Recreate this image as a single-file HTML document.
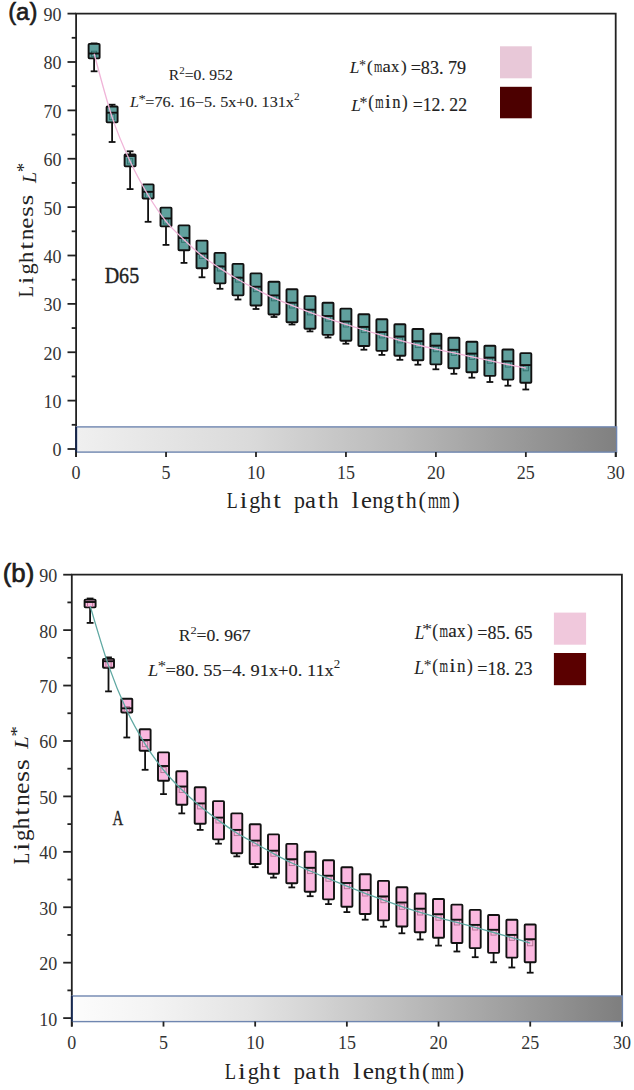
<!DOCTYPE html>
<html><head><meta charset="utf-8"><style>
html,body{margin:0;padding:0;background:#fff;}
svg{display:block;}
text{fill:#222;}
.tk{font-family:"Liberation Serif",serif;font-size:18px;fill:#333;}
.pl{font-family:"Liberation Sans",sans-serif;font-weight:bold;font-size:23px;fill:#111;}
.ann{font-family:"Liberation Serif",serif;font-size:16px;fill:#222;}
.ann2{font-family:"Liberation Serif",serif;font-size:18px;fill:#222;}
.mono{font-family:"Liberation Mono",monospace;font-size:15px;fill:#222;}
.it{font-family:"Liberation Serif",serif;font-style:italic;}
.sup{font-size:11px;}
.sup2{font-size:12px;}
.big{font-family:"Liberation Mono",monospace;font-size:21px;fill:#222;}
.ttl{font-family:"Liberation Mono",monospace;font-size:18.3px;fill:#333;}
.itl{font-family:"Liberation Serif",serif;font-style:italic;font-size:21px;}
.supl{font-family:"Liberation Serif",serif;font-size:15px;}
</style></head>
<body><svg width="634" height="1090" viewBox="0 0 634 1090">
<rect width="634" height="1090" fill="#fff"/>
<defs><linearGradient id="gA" x1="0" x2="1" y1="0" y2="0"><stop offset="0" stop-color="rgb(240,240,240)"/><stop offset="0.14" stop-color="rgb(230,230,230)"/><stop offset="0.32" stop-color="rgb(218,218,218)"/><stop offset="0.42" stop-color="rgb(206,206,206)"/><stop offset="0.6" stop-color="rgb(185,185,185)"/><stop offset="0.8" stop-color="rgb(156,156,156)"/><stop offset="1" stop-color="rgb(128,128,128)"/></linearGradient></defs>
<path d="M76.1,457.0V13.6H615.7V457.0" fill="none" stroke="#222" stroke-width="1.8"/>
<line x1="67.5" x2="76.1" y1="449.00" y2="449.00" stroke="#222" stroke-width="1.8"/>
<text x="61.6" y="456.4" class="tk" text-anchor="end">0</text>
<line x1="67.5" x2="76.1" y1="400.62" y2="400.62" stroke="#222" stroke-width="1.8"/>
<text x="61.6" y="408.0" class="tk" text-anchor="end">10</text>
<line x1="67.5" x2="76.1" y1="352.25" y2="352.25" stroke="#222" stroke-width="1.8"/>
<text x="61.6" y="359.6" class="tk" text-anchor="end">20</text>
<line x1="67.5" x2="76.1" y1="303.88" y2="303.88" stroke="#222" stroke-width="1.8"/>
<text x="61.6" y="311.3" class="tk" text-anchor="end">30</text>
<line x1="67.5" x2="76.1" y1="255.50" y2="255.50" stroke="#222" stroke-width="1.8"/>
<text x="61.6" y="262.9" class="tk" text-anchor="end">40</text>
<line x1="67.5" x2="76.1" y1="207.12" y2="207.12" stroke="#222" stroke-width="1.8"/>
<text x="61.6" y="214.5" class="tk" text-anchor="end">50</text>
<line x1="67.5" x2="76.1" y1="158.75" y2="158.75" stroke="#222" stroke-width="1.8"/>
<text x="61.6" y="166.2" class="tk" text-anchor="end">60</text>
<line x1="67.5" x2="76.1" y1="110.38" y2="110.38" stroke="#222" stroke-width="1.8"/>
<text x="61.6" y="117.8" class="tk" text-anchor="end">70</text>
<line x1="67.5" x2="76.1" y1="62.00" y2="62.00" stroke="#222" stroke-width="1.8"/>
<text x="61.6" y="69.4" class="tk" text-anchor="end">80</text>
<line x1="67.5" x2="76.1" y1="13.62" y2="13.62" stroke="#222" stroke-width="1.8"/>
<text x="61.6" y="21.0" class="tk" text-anchor="end">90</text>
<line x1="71.7" x2="76.1" y1="424.81" y2="424.81" stroke="#222" stroke-width="1.8"/>
<line x1="71.7" x2="76.1" y1="376.44" y2="376.44" stroke="#222" stroke-width="1.8"/>
<line x1="71.7" x2="76.1" y1="328.06" y2="328.06" stroke="#222" stroke-width="1.8"/>
<line x1="71.7" x2="76.1" y1="279.69" y2="279.69" stroke="#222" stroke-width="1.8"/>
<line x1="71.7" x2="76.1" y1="231.31" y2="231.31" stroke="#222" stroke-width="1.8"/>
<line x1="71.7" x2="76.1" y1="182.94" y2="182.94" stroke="#222" stroke-width="1.8"/>
<line x1="71.7" x2="76.1" y1="134.56" y2="134.56" stroke="#222" stroke-width="1.8"/>
<line x1="71.7" x2="76.1" y1="86.19" y2="86.19" stroke="#222" stroke-width="1.8"/>
<line x1="71.7" x2="76.1" y1="37.81" y2="37.81" stroke="#222" stroke-width="1.8"/>
<rect x="76.6" y="426.9" width="540.0" height="25.2" fill="url(#gA)" stroke="#6f86b0" stroke-width="1.4"/>
<line x1="76.1" x2="76.1" y1="426.9" y2="452.1" stroke="#15254a" stroke-width="1.8"/>
<line x1="76.10" x2="76.10" y1="452.1" y2="457.0" stroke="#222" stroke-width="1.8"/>
<text x="76.1" y="478.8" class="tk" text-anchor="middle">0</text>
<line x1="166.05" x2="166.05" y1="452.1" y2="457.0" stroke="#222" stroke-width="1.8"/>
<text x="166.0" y="478.8" class="tk" text-anchor="middle">5</text>
<line x1="256.00" x2="256.00" y1="452.1" y2="457.0" stroke="#222" stroke-width="1.8"/>
<text x="256.0" y="478.8" class="tk" text-anchor="middle">10</text>
<line x1="345.95" x2="345.95" y1="452.1" y2="457.0" stroke="#222" stroke-width="1.8"/>
<text x="345.9" y="478.8" class="tk" text-anchor="middle">15</text>
<line x1="435.90" x2="435.90" y1="452.1" y2="457.0" stroke="#222" stroke-width="1.8"/>
<text x="435.9" y="478.8" class="tk" text-anchor="middle">20</text>
<line x1="525.85" x2="525.85" y1="452.1" y2="457.0" stroke="#222" stroke-width="1.8"/>
<text x="525.8" y="478.8" class="tk" text-anchor="middle">25</text>
<line x1="615.80" x2="615.80" y1="452.1" y2="457.0" stroke="#222" stroke-width="1.8"/>
<text x="615.8" y="478.8" class="tk" text-anchor="middle">30</text>
<line x1="94.1" x2="94.1" y1="58.4" y2="71.3" stroke="#111" stroke-width="1.8"/><line x1="90.7" x2="97.5" y1="71.3" y2="71.3" stroke="#111" stroke-width="1.8"/><line x1="94.1" x2="94.1" y1="43.9" y2="43.4" stroke="#111" stroke-width="1.8"/><line x1="90.7" x2="97.5" y1="43.4" y2="43.4" stroke="#111" stroke-width="1.8"/><rect x="88.6" y="43.9" width="11.0" height="14.5" rx="0.8" fill="#60a09d" stroke="#111" stroke-width="1.9"/><rect x="91.5" y="51.2" width="5.2" height="5.2" fill="none" stroke="#2f6d6a" stroke-width="0.9"/><line x1="88.6" x2="99.6" y1="53.5" y2="53.5" stroke="#111" stroke-width="1.9"/>
<line x1="112.1" x2="112.1" y1="122.4" y2="142.0" stroke="#111" stroke-width="1.8"/><line x1="108.7" x2="115.5" y1="142.0" y2="142.0" stroke="#111" stroke-width="1.8"/><line x1="112.1" x2="112.1" y1="106.5" y2="104.7" stroke="#111" stroke-width="1.8"/><line x1="108.7" x2="115.5" y1="104.7" y2="104.7" stroke="#111" stroke-width="1.8"/><rect x="106.6" y="106.5" width="11.0" height="15.9" rx="0.8" fill="#60a09d" stroke="#111" stroke-width="1.9"/><rect x="109.5" y="114.5" width="5.2" height="5.2" fill="none" stroke="#2f6d6a" stroke-width="0.9"/><line x1="106.6" x2="117.6" y1="112.7" y2="112.7" stroke="#111" stroke-width="1.9"/>
<line x1="130.1" x2="130.1" y1="166.4" y2="189.1" stroke="#111" stroke-width="1.8"/><line x1="126.7" x2="133.5" y1="189.1" y2="189.1" stroke="#111" stroke-width="1.8"/><line x1="130.1" x2="130.1" y1="154.4" y2="151.3" stroke="#111" stroke-width="1.8"/><line x1="126.7" x2="133.5" y1="151.3" y2="151.3" stroke="#111" stroke-width="1.8"/><rect x="124.6" y="154.4" width="11.0" height="12.0" rx="0.8" fill="#60a09d" stroke="#111" stroke-width="1.9"/><rect x="127.5" y="158.7" width="5.2" height="5.2" fill="none" stroke="#2f6d6a" stroke-width="0.9"/><line x1="124.6" x2="135.6" y1="156.0" y2="156.0" stroke="#111" stroke-width="1.9"/>
<line x1="148.1" x2="148.1" y1="198.5" y2="221.8" stroke="#111" stroke-width="1.8"/><line x1="144.7" x2="151.5" y1="221.8" y2="221.8" stroke="#111" stroke-width="1.8"/><rect x="142.6" y="184.4" width="11.0" height="14.1" rx="0.8" fill="#60a09d" stroke="#111" stroke-width="1.9"/><rect x="145.5" y="192.4" width="5.2" height="5.2" fill="none" stroke="#2f6d6a" stroke-width="0.9"/><line x1="142.6" x2="153.6" y1="191.8" y2="191.8" stroke="#111" stroke-width="1.9"/>
<line x1="166.0" x2="166.0" y1="226.4" y2="244.9" stroke="#111" stroke-width="1.8"/><line x1="162.6" x2="169.4" y1="244.9" y2="244.9" stroke="#111" stroke-width="1.8"/><rect x="160.5" y="207.6" width="11.0" height="18.8" rx="0.8" fill="#60a09d" stroke="#111" stroke-width="1.9"/><rect x="163.4" y="218.8" width="5.2" height="5.2" fill="none" stroke="#2f6d6a" stroke-width="0.9"/><line x1="160.5" x2="171.5" y1="218.4" y2="218.4" stroke="#111" stroke-width="1.9"/>
<line x1="184.0" x2="184.0" y1="250.2" y2="262.9" stroke="#111" stroke-width="1.8"/><line x1="180.6" x2="187.4" y1="262.9" y2="262.9" stroke="#111" stroke-width="1.8"/><rect x="178.5" y="225.4" width="11.0" height="24.8" rx="0.8" fill="#60a09d" stroke="#111" stroke-width="1.9"/><rect x="181.4" y="237.1" width="5.2" height="5.2" fill="none" stroke="#2f6d6a" stroke-width="0.9"/><line x1="178.5" x2="189.5" y1="238.0" y2="238.0" stroke="#111" stroke-width="1.9"/>
<line x1="202.0" x2="202.0" y1="268.3" y2="277.3" stroke="#111" stroke-width="1.8"/><line x1="198.6" x2="205.4" y1="277.3" y2="277.3" stroke="#111" stroke-width="1.8"/><rect x="196.5" y="240.6" width="11.0" height="27.7" rx="0.8" fill="#60a09d" stroke="#111" stroke-width="1.9"/><rect x="199.4" y="253.2" width="5.2" height="5.2" fill="none" stroke="#2f6d6a" stroke-width="0.9"/><line x1="196.5" x2="207.5" y1="253.6" y2="253.6" stroke="#111" stroke-width="1.9"/>
<line x1="220.0" x2="220.0" y1="283.4" y2="288.8" stroke="#111" stroke-width="1.8"/><line x1="216.6" x2="223.4" y1="288.8" y2="288.8" stroke="#111" stroke-width="1.8"/><rect x="214.5" y="252.9" width="11.0" height="30.5" rx="0.8" fill="#60a09d" stroke="#111" stroke-width="1.9"/><rect x="217.4" y="265.8" width="5.2" height="5.2" fill="none" stroke="#2f6d6a" stroke-width="0.9"/><line x1="214.5" x2="225.5" y1="266.5" y2="266.5" stroke="#111" stroke-width="1.9"/>
<line x1="238.0" x2="238.0" y1="295.4" y2="299.5" stroke="#111" stroke-width="1.8"/><line x1="234.6" x2="241.4" y1="299.5" y2="299.5" stroke="#111" stroke-width="1.8"/><rect x="232.5" y="263.9" width="11.0" height="31.5" rx="0.8" fill="#60a09d" stroke="#111" stroke-width="1.9"/><rect x="235.4" y="276.9" width="5.2" height="5.2" fill="none" stroke="#2f6d6a" stroke-width="0.9"/><line x1="232.5" x2="243.5" y1="277.7" y2="277.7" stroke="#111" stroke-width="1.9"/>
<line x1="256.0" x2="256.0" y1="305.5" y2="309.0" stroke="#111" stroke-width="1.8"/><line x1="252.6" x2="259.4" y1="309.0" y2="309.0" stroke="#111" stroke-width="1.8"/><rect x="250.5" y="273.4" width="11.0" height="32.1" rx="0.8" fill="#60a09d" stroke="#111" stroke-width="1.9"/><rect x="253.4" y="286.5" width="5.2" height="5.2" fill="none" stroke="#2f6d6a" stroke-width="0.9"/><line x1="250.5" x2="261.5" y1="286.7" y2="286.7" stroke="#111" stroke-width="1.9"/>
<line x1="274.0" x2="274.0" y1="314.5" y2="317.0" stroke="#111" stroke-width="1.8"/><line x1="270.6" x2="277.4" y1="317.0" y2="317.0" stroke="#111" stroke-width="1.8"/><rect x="268.5" y="281.7" width="11.0" height="32.8" rx="0.8" fill="#60a09d" stroke="#111" stroke-width="1.9"/><rect x="271.4" y="295.6" width="5.2" height="5.2" fill="none" stroke="#2f6d6a" stroke-width="0.9"/><line x1="268.5" x2="279.5" y1="295.4" y2="295.4" stroke="#111" stroke-width="1.9"/>
<line x1="292.0" x2="292.0" y1="322.2" y2="324.5" stroke="#111" stroke-width="1.8"/><line x1="288.6" x2="295.4" y1="324.5" y2="324.5" stroke="#111" stroke-width="1.8"/><rect x="286.5" y="289.3" width="11.0" height="32.9" rx="0.8" fill="#60a09d" stroke="#111" stroke-width="1.9"/><rect x="289.4" y="302.8" width="5.2" height="5.2" fill="none" stroke="#2f6d6a" stroke-width="0.9"/><line x1="286.5" x2="297.5" y1="302.7" y2="302.7" stroke="#111" stroke-width="1.9"/>
<line x1="310.0" x2="310.0" y1="328.7" y2="331.4" stroke="#111" stroke-width="1.8"/><line x1="306.6" x2="313.4" y1="331.4" y2="331.4" stroke="#111" stroke-width="1.8"/><rect x="304.5" y="296.1" width="11.0" height="32.6" rx="0.8" fill="#60a09d" stroke="#111" stroke-width="1.9"/><rect x="307.4" y="309.7" width="5.2" height="5.2" fill="none" stroke="#2f6d6a" stroke-width="0.9"/><line x1="304.5" x2="315.5" y1="309.7" y2="309.7" stroke="#111" stroke-width="1.9"/>
<line x1="328.0" x2="328.0" y1="334.9" y2="337.5" stroke="#111" stroke-width="1.8"/><line x1="324.6" x2="331.4" y1="337.5" y2="337.5" stroke="#111" stroke-width="1.8"/><rect x="322.5" y="302.7" width="11.0" height="32.2" rx="0.8" fill="#60a09d" stroke="#111" stroke-width="1.9"/><rect x="325.4" y="316.0" width="5.2" height="5.2" fill="none" stroke="#2f6d6a" stroke-width="0.9"/><line x1="322.5" x2="333.5" y1="316.0" y2="316.0" stroke="#111" stroke-width="1.9"/>
<line x1="345.9" x2="345.9" y1="340.7" y2="343.7" stroke="#111" stroke-width="1.8"/><line x1="342.5" x2="349.3" y1="343.7" y2="343.7" stroke="#111" stroke-width="1.8"/><rect x="340.4" y="308.6" width="11.0" height="32.1" rx="0.8" fill="#60a09d" stroke="#111" stroke-width="1.9"/><rect x="343.3" y="321.8" width="5.2" height="5.2" fill="none" stroke="#2f6d6a" stroke-width="0.9"/><line x1="340.4" x2="351.4" y1="321.5" y2="321.5" stroke="#111" stroke-width="1.9"/>
<line x1="363.9" x2="363.9" y1="346.0" y2="349.7" stroke="#111" stroke-width="1.8"/><line x1="360.5" x2="367.3" y1="349.7" y2="349.7" stroke="#111" stroke-width="1.8"/><rect x="358.4" y="314.3" width="11.0" height="31.7" rx="0.8" fill="#60a09d" stroke="#111" stroke-width="1.9"/><rect x="361.3" y="327.4" width="5.2" height="5.2" fill="none" stroke="#2f6d6a" stroke-width="0.9"/><line x1="358.4" x2="369.4" y1="326.9" y2="326.9" stroke="#111" stroke-width="1.9"/>
<line x1="381.9" x2="381.9" y1="350.9" y2="354.9" stroke="#111" stroke-width="1.8"/><line x1="378.5" x2="385.3" y1="354.9" y2="354.9" stroke="#111" stroke-width="1.8"/><rect x="376.4" y="319.3" width="11.0" height="31.6" rx="0.8" fill="#60a09d" stroke="#111" stroke-width="1.9"/><rect x="379.3" y="332.7" width="5.2" height="5.2" fill="none" stroke="#2f6d6a" stroke-width="0.9"/><line x1="376.4" x2="387.4" y1="332.1" y2="332.1" stroke="#111" stroke-width="1.9"/>
<line x1="399.9" x2="399.9" y1="355.7" y2="359.8" stroke="#111" stroke-width="1.8"/><line x1="396.5" x2="403.3" y1="359.8" y2="359.8" stroke="#111" stroke-width="1.8"/><rect x="394.4" y="324.3" width="11.0" height="31.4" rx="0.8" fill="#60a09d" stroke="#111" stroke-width="1.9"/><rect x="397.3" y="337.7" width="5.2" height="5.2" fill="none" stroke="#2f6d6a" stroke-width="0.9"/><line x1="394.4" x2="405.4" y1="336.5" y2="336.5" stroke="#111" stroke-width="1.9"/>
<line x1="417.9" x2="417.9" y1="360.2" y2="364.7" stroke="#111" stroke-width="1.8"/><line x1="414.5" x2="421.3" y1="364.7" y2="364.7" stroke="#111" stroke-width="1.8"/><rect x="412.4" y="329.0" width="11.0" height="31.2" rx="0.8" fill="#60a09d" stroke="#111" stroke-width="1.9"/><rect x="415.3" y="342.4" width="5.2" height="5.2" fill="none" stroke="#2f6d6a" stroke-width="0.9"/><line x1="412.4" x2="423.4" y1="341.2" y2="341.2" stroke="#111" stroke-width="1.9"/>
<line x1="435.9" x2="435.9" y1="364.4" y2="369.3" stroke="#111" stroke-width="1.8"/><line x1="432.5" x2="439.3" y1="369.3" y2="369.3" stroke="#111" stroke-width="1.8"/><rect x="430.4" y="333.7" width="11.0" height="30.7" rx="0.8" fill="#60a09d" stroke="#111" stroke-width="1.9"/><rect x="433.3" y="346.5" width="5.2" height="5.2" fill="none" stroke="#2f6d6a" stroke-width="0.9"/><line x1="430.4" x2="441.4" y1="345.6" y2="345.6" stroke="#111" stroke-width="1.9"/>
<line x1="453.9" x2="453.9" y1="368.2" y2="373.8" stroke="#111" stroke-width="1.8"/><line x1="450.5" x2="457.3" y1="373.8" y2="373.8" stroke="#111" stroke-width="1.8"/><rect x="448.4" y="337.7" width="11.0" height="30.5" rx="0.8" fill="#60a09d" stroke="#111" stroke-width="1.9"/><rect x="451.3" y="350.3" width="5.2" height="5.2" fill="none" stroke="#2f6d6a" stroke-width="0.9"/><line x1="448.4" x2="459.4" y1="349.8" y2="349.8" stroke="#111" stroke-width="1.9"/>
<line x1="471.9" x2="471.9" y1="372.2" y2="377.7" stroke="#111" stroke-width="1.8"/><line x1="468.5" x2="475.3" y1="377.7" y2="377.7" stroke="#111" stroke-width="1.8"/><rect x="466.4" y="341.7" width="11.0" height="30.5" rx="0.8" fill="#60a09d" stroke="#111" stroke-width="1.9"/><rect x="469.3" y="354.2" width="5.2" height="5.2" fill="none" stroke="#2f6d6a" stroke-width="0.9"/><line x1="466.4" x2="477.4" y1="353.6" y2="353.6" stroke="#111" stroke-width="1.9"/>
<line x1="489.9" x2="489.9" y1="375.9" y2="382.0" stroke="#111" stroke-width="1.8"/><line x1="486.5" x2="493.3" y1="382.0" y2="382.0" stroke="#111" stroke-width="1.8"/><rect x="484.4" y="345.7" width="11.0" height="30.2" rx="0.8" fill="#60a09d" stroke="#111" stroke-width="1.9"/><rect x="487.3" y="358.1" width="5.2" height="5.2" fill="none" stroke="#2f6d6a" stroke-width="0.9"/><line x1="484.4" x2="495.4" y1="357.6" y2="357.6" stroke="#111" stroke-width="1.9"/>
<line x1="507.9" x2="507.9" y1="379.6" y2="385.7" stroke="#111" stroke-width="1.8"/><line x1="504.5" x2="511.3" y1="385.7" y2="385.7" stroke="#111" stroke-width="1.8"/><rect x="502.4" y="349.5" width="11.0" height="30.1" rx="0.8" fill="#60a09d" stroke="#111" stroke-width="1.9"/><rect x="505.3" y="361.9" width="5.2" height="5.2" fill="none" stroke="#2f6d6a" stroke-width="0.9"/><line x1="502.4" x2="513.4" y1="361.3" y2="361.3" stroke="#111" stroke-width="1.9"/>
<line x1="525.8" x2="525.8" y1="382.7" y2="389.5" stroke="#111" stroke-width="1.8"/><line x1="522.4" x2="529.2" y1="389.5" y2="389.5" stroke="#111" stroke-width="1.8"/><rect x="520.3" y="353.1" width="11.0" height="29.6" rx="0.8" fill="#60a09d" stroke="#111" stroke-width="1.9"/><rect x="523.2" y="365.6" width="5.2" height="5.2" fill="none" stroke="#2f6d6a" stroke-width="0.9"/><line x1="520.3" x2="531.3" y1="365.1" y2="365.1" stroke="#111" stroke-width="1.9"/>
<path d="M94.09,53.80C97.09,64.35 106.08,99.18 112.08,117.10C118.08,135.02 124.07,148.32 130.07,161.30C136.07,174.28 142.06,184.98 148.06,195.00C154.06,205.02 160.05,213.95 166.05,221.40C172.05,228.85 178.04,233.97 184.04,239.70C190.04,245.43 196.03,251.02 202.03,255.80C208.03,260.58 214.02,264.45 220.02,268.40C226.02,272.35 232.01,276.05 238.01,279.50C244.01,282.95 250.00,285.98 256.00,289.10C262.00,292.22 267.99,295.48 273.99,298.20C279.99,300.92 285.98,303.05 291.98,305.40C297.98,307.75 303.97,310.10 309.97,312.30C315.97,314.50 321.96,316.58 327.96,318.60C333.96,320.62 339.95,322.50 345.95,324.40C351.95,326.30 357.94,328.18 363.94,330.00C369.94,331.82 375.93,333.58 381.93,335.30C387.93,337.02 393.92,338.68 399.92,340.30C405.92,341.92 411.91,343.53 417.91,345.00C423.91,346.47 429.90,347.78 435.90,349.10C441.90,350.42 447.89,351.62 453.89,352.90C459.89,354.18 465.88,355.50 471.88,356.80C477.88,358.10 483.87,359.42 489.87,360.70C495.87,361.98 501.86,363.25 507.86,364.50C513.86,365.75 522.85,367.58 525.85,368.20" fill="none" stroke="#f0b4d8" stroke-width="1.3"/>
<g transform="translate(-95.68,-81.37) scale(1.0385,1.0112)" fill="#222"><text x="100" y="100" style="font-family:&quot;Liberation Sans&quot;,sans-serif;font-size:23px" stroke="#111" stroke-width="0.55">(a)</text></g>
<g transform="translate(76.42,-8.50) scale(0.9236,0.8892)" fill="#222"><text x="100" y="100" style="font-family:&quot;Liberation Serif&quot;,serif;font-size:17px">R<tspan style="font-size:11.9px" dy="-7.7">2</tspan><tspan dy="7.7" stroke="#222" stroke-width="0.12">=0. 952</tspan></text></g>
<g transform="translate(34.83,21.89) scale(0.9517,0.8502)" fill="#222"><text x="100" y="100" style="font-family:&quot;Liberation Serif&quot;,serif;font-size:17px"><tspan style="font-style:italic">L</tspan><tspan style="font-size:15.3px" dy="-5.1" dx="-0.5">*</tspan><tspan dy="5.1" dx="-0.5" stroke="#222" stroke-width="0.12">=76. 16−5. 5x+0. 131x</tspan><tspan style="font-size:11.9px" dy="-7.7">2</tspan></text></g>
<g transform="translate(247.62,-26.60) scale(1.0223,1.0000)" fill="#222"><text x="100" y="100" style="font-family:&quot;Liberation Serif&quot;,serif;font-style:italic;font-size:17px">L</text></g>
<g transform="translate(276.04,-16.63) scale(0.8288,0.8711)" fill="#222"><text x="100" y="100" style="font-family:&quot;Liberation Serif&quot;,serif;font-size:17px">*</text></g>
<g transform="translate(259.36,-32.65) scale(1.0617,1.0489)" fill="#222"><text transform="translate(104.00,100) scale(1.000,1)" text-anchor="middle" style="font-family:&quot;Liberation Serif&quot;,serif;font-size:16px" stroke="#222" stroke-width="0.12">(</text><text transform="translate(112.00,100) scale(0.630,1)" text-anchor="middle" style="font-family:&quot;Liberation Serif&quot;,serif;font-size:16px" stroke="#222" stroke-width="0.12">m</text><text transform="translate(120.00,100) scale(1.104,1)" text-anchor="middle" style="font-family:&quot;Liberation Serif&quot;,serif;font-size:16px" stroke="#222" stroke-width="0.12">a</text><text transform="translate(128.00,100) scale(0.980,1)" text-anchor="middle" style="font-family:&quot;Liberation Serif&quot;,serif;font-size:16px" stroke="#222" stroke-width="0.12">x</text><text transform="translate(136.00,100) scale(1.000,1)" text-anchor="middle" style="font-family:&quot;Liberation Serif&quot;,serif;font-size:16px" stroke="#222" stroke-width="0.12">)</text></g>
<g transform="translate(315.21,-26.31) scale(0.9544,1.0070)" fill="#222"><text x="100" y="100" style="font-family:&quot;Liberation Serif&quot;,serif;font-size:19px" stroke="#222" stroke-width="0.15">=83. 79</text></g>
<g transform="translate(249.02,11.00) scale(1.0223,1.0000)" fill="#222"><text x="100" y="100" style="font-family:&quot;Liberation Serif&quot;,serif;font-style:italic;font-size:17px">L</text></g>
<g transform="translate(264.91,7.60) scale(0.9450,1.0000)" fill="#222"><text x="100" y="100" style="font-family:&quot;Liberation Serif&quot;,serif;font-size:17px">*</text></g>
<g transform="translate(260.62,-7.45) scale(1.0611,1.1578)" fill="#222"><text transform="translate(104.00,100) scale(1.000,1)" text-anchor="middle" style="font-family:&quot;Liberation Serif&quot;,serif;font-size:16px" stroke="#222" stroke-width="0.12">(</text><text transform="translate(112.00,100) scale(0.630,1)" text-anchor="middle" style="font-family:&quot;Liberation Serif&quot;,serif;font-size:16px" stroke="#222" stroke-width="0.12">m</text><text transform="translate(120.00,100) scale(1.220,1)" text-anchor="middle" style="font-family:&quot;Liberation Serif&quot;,serif;font-size:16px" stroke="#222" stroke-width="0.12">i</text><text transform="translate(128.00,100) scale(0.980,1)" text-anchor="middle" style="font-family:&quot;Liberation Serif&quot;,serif;font-size:16px" stroke="#222" stroke-width="0.12">n</text><text transform="translate(136.00,100) scale(1.000,1)" text-anchor="middle" style="font-family:&quot;Liberation Serif&quot;,serif;font-size:16px" stroke="#222" stroke-width="0.12">)</text></g>
<g transform="translate(319.43,10.69) scale(0.9334,1.0070)" fill="#222"><text x="100" y="100" style="font-family:&quot;Liberation Serif&quot;,serif;font-size:19px" stroke="#222" stroke-width="0.15">=12. 22</text></g>
<g transform="translate(13.46,174.27) scale(0.9119,1.0858)" fill="#222"><text x="100" y="100" style="font-family:&quot;Liberation Serif&quot;,serif;font-size:22px" stroke="#222" stroke-width="0.35">D65</text></g>
<g transform="translate(-54.57,5.05) scale(0.8800,0.9748)" fill="#222"><g transform="translate(100,300) rotate(-90) translate(-100,-100)"><text transform="translate(105.88,100) scale(0.802,1)" text-anchor="middle" style="font-family:&quot;Liberation Serif&quot;,serif;font-size:23.5px">L</text><text transform="translate(117.62,100) scale(1.220,1)" text-anchor="middle" style="font-family:&quot;Liberation Serif&quot;,serif;font-size:23.5px">i</text><text transform="translate(129.38,100) scale(0.980,1)" text-anchor="middle" style="font-family:&quot;Liberation Serif&quot;,serif;font-size:23.5px">g</text><text transform="translate(141.12,100) scale(0.980,1)" text-anchor="middle" style="font-family:&quot;Liberation Serif&quot;,serif;font-size:23.5px">h</text><text transform="translate(152.88,100) scale(1.220,1)" text-anchor="middle" style="font-family:&quot;Liberation Serif&quot;,serif;font-size:23.5px">t</text><text transform="translate(164.62,100) scale(0.980,1)" text-anchor="middle" style="font-family:&quot;Liberation Serif&quot;,serif;font-size:23.5px">n</text><text transform="translate(176.38,100) scale(1.104,1)" text-anchor="middle" style="font-family:&quot;Liberation Serif&quot;,serif;font-size:23.5px">e</text><text transform="translate(188.12,100) scale(1.220,1)" text-anchor="middle" style="font-family:&quot;Liberation Serif&quot;,serif;font-size:23.5px">s</text><text transform="translate(199.88,100) scale(1.220,1)" text-anchor="middle" style="font-family:&quot;Liberation Serif&quot;,serif;font-size:23.5px">s</text></g></g>
<g transform="translate(-45.00,-67.63) scale(0.8098,0.8351)" fill="#222"><text transform="translate(100,300) rotate(-90)" style="font-family:&quot;Liberation Serif&quot;,serif;font-size:24px"><tspan style="font-style:italic">L</tspan><tspan style="font-size:22.8px" dy="-7.9" dx="-0.5">*</tspan></text></g>
<g transform="translate(131.55,410.29) scale(0.9514,0.9810)" fill="#222"><text transform="translate(105.88,100) scale(0.802,1)" text-anchor="middle" style="font-family:&quot;Liberation Serif&quot;,serif;font-size:23.5px">L</text><text transform="translate(117.62,100) scale(1.220,1)" text-anchor="middle" style="font-family:&quot;Liberation Serif&quot;,serif;font-size:23.5px">i</text><text transform="translate(129.38,100) scale(0.980,1)" text-anchor="middle" style="font-family:&quot;Liberation Serif&quot;,serif;font-size:23.5px">g</text><text transform="translate(141.12,100) scale(0.980,1)" text-anchor="middle" style="font-family:&quot;Liberation Serif&quot;,serif;font-size:23.5px">h</text><text transform="translate(152.88,100) scale(1.220,1)" text-anchor="middle" style="font-family:&quot;Liberation Serif&quot;,serif;font-size:23.5px">t</text><text transform="translate(176.38,100) scale(0.980,1)" text-anchor="middle" style="font-family:&quot;Liberation Serif&quot;,serif;font-size:23.5px">p</text><text transform="translate(188.12,100) scale(1.104,1)" text-anchor="middle" style="font-family:&quot;Liberation Serif&quot;,serif;font-size:23.5px">a</text><text transform="translate(199.88,100) scale(1.220,1)" text-anchor="middle" style="font-family:&quot;Liberation Serif&quot;,serif;font-size:23.5px">t</text><text transform="translate(211.62,100) scale(0.980,1)" text-anchor="middle" style="font-family:&quot;Liberation Serif&quot;,serif;font-size:23.5px">h</text><text transform="translate(235.12,100) scale(1.220,1)" text-anchor="middle" style="font-family:&quot;Liberation Serif&quot;,serif;font-size:23.5px">l</text><text transform="translate(246.88,100) scale(1.104,1)" text-anchor="middle" style="font-family:&quot;Liberation Serif&quot;,serif;font-size:23.5px">e</text><text transform="translate(258.62,100) scale(0.980,1)" text-anchor="middle" style="font-family:&quot;Liberation Serif&quot;,serif;font-size:23.5px">n</text><text transform="translate(270.38,100) scale(0.980,1)" text-anchor="middle" style="font-family:&quot;Liberation Serif&quot;,serif;font-size:23.5px">g</text><text transform="translate(282.12,100) scale(1.220,1)" text-anchor="middle" style="font-family:&quot;Liberation Serif&quot;,serif;font-size:23.5px">t</text><text transform="translate(293.88,100) scale(0.980,1)" text-anchor="middle" style="font-family:&quot;Liberation Serif&quot;,serif;font-size:23.5px">h</text><text transform="translate(305.62,100) scale(1.000,1)" text-anchor="middle" style="font-family:&quot;Liberation Serif&quot;,serif;font-size:23.5px">(</text><text transform="translate(317.38,100) scale(0.630,1)" text-anchor="middle" style="font-family:&quot;Liberation Serif&quot;,serif;font-size:23.5px">m</text><text transform="translate(329.12,100) scale(0.630,1)" text-anchor="middle" style="font-family:&quot;Liberation Serif&quot;,serif;font-size:23.5px">m</text><text transform="translate(340.88,100) scale(1.000,1)" text-anchor="middle" style="font-family:&quot;Liberation Serif&quot;,serif;font-size:23.5px">)</text></g>
<rect x="500" y="46.3" width="31.8" height="32" fill="#e8c8d8"/>
<rect x="500" y="86.8" width="31.8" height="31.5" fill="#4c0000"/>

<defs><linearGradient id="gB" x1="0" x2="1" y1="0" y2="0"><stop offset="0" stop-color="rgb(252,252,252)"/><stop offset="0.14" stop-color="rgb(244,244,244)"/><stop offset="0.32" stop-color="rgb(228,228,228)"/><stop offset="0.42" stop-color="rgb(215,215,215)"/><stop offset="0.6" stop-color="rgb(189,189,189)"/><stop offset="0.8" stop-color="rgb(158,158,158)"/><stop offset="1" stop-color="rgb(126,126,126)"/></linearGradient></defs>
<path d="M71.8,1026.6V574.7H621.9V1026.6" fill="none" stroke="#222" stroke-width="1.8"/>
<line x1="63.2" x2="71.8" y1="1018.10" y2="1018.10" stroke="#222" stroke-width="1.8"/>
<text x="57.3" y="1025.5" class="tk" text-anchor="end">10</text>
<line x1="63.2" x2="71.8" y1="962.68" y2="962.68" stroke="#222" stroke-width="1.8"/>
<text x="57.3" y="970.1" class="tk" text-anchor="end">20</text>
<line x1="63.2" x2="71.8" y1="907.25" y2="907.25" stroke="#222" stroke-width="1.8"/>
<text x="57.3" y="914.7" class="tk" text-anchor="end">30</text>
<line x1="63.2" x2="71.8" y1="851.83" y2="851.83" stroke="#222" stroke-width="1.8"/>
<text x="57.3" y="859.2" class="tk" text-anchor="end">40</text>
<line x1="63.2" x2="71.8" y1="796.40" y2="796.40" stroke="#222" stroke-width="1.8"/>
<text x="57.3" y="803.8" class="tk" text-anchor="end">50</text>
<line x1="63.2" x2="71.8" y1="740.98" y2="740.98" stroke="#222" stroke-width="1.8"/>
<text x="57.3" y="748.4" class="tk" text-anchor="end">60</text>
<line x1="63.2" x2="71.8" y1="685.55" y2="685.55" stroke="#222" stroke-width="1.8"/>
<text x="57.3" y="693.0" class="tk" text-anchor="end">70</text>
<line x1="63.2" x2="71.8" y1="630.12" y2="630.12" stroke="#222" stroke-width="1.8"/>
<text x="57.3" y="637.5" class="tk" text-anchor="end">80</text>
<line x1="63.2" x2="71.8" y1="574.70" y2="574.70" stroke="#222" stroke-width="1.8"/>
<text x="57.3" y="582.1" class="tk" text-anchor="end">90</text>
<line x1="67.4" x2="71.8" y1="990.39" y2="990.39" stroke="#222" stroke-width="1.8"/>
<line x1="67.4" x2="71.8" y1="934.96" y2="934.96" stroke="#222" stroke-width="1.8"/>
<line x1="67.4" x2="71.8" y1="879.54" y2="879.54" stroke="#222" stroke-width="1.8"/>
<line x1="67.4" x2="71.8" y1="824.11" y2="824.11" stroke="#222" stroke-width="1.8"/>
<line x1="67.4" x2="71.8" y1="768.69" y2="768.69" stroke="#222" stroke-width="1.8"/>
<line x1="67.4" x2="71.8" y1="713.26" y2="713.26" stroke="#222" stroke-width="1.8"/>
<line x1="67.4" x2="71.8" y1="657.84" y2="657.84" stroke="#222" stroke-width="1.8"/>
<line x1="67.4" x2="71.8" y1="602.41" y2="602.41" stroke="#222" stroke-width="1.8"/>
<rect x="72.3" y="996.0" width="550.1" height="25.6" fill="url(#gB)" stroke="#6f86b0" stroke-width="1.4"/>
<line x1="71.8" x2="71.8" y1="996.0" y2="1021.6" stroke="#15254a" stroke-width="1.8"/>
<line x1="71.80" x2="71.80" y1="1021.6" y2="1026.6" stroke="#222" stroke-width="1.8"/>
<text x="71.8" y="1049.2" class="tk" text-anchor="middle">0</text>
<line x1="163.49" x2="163.49" y1="1021.6" y2="1026.6" stroke="#222" stroke-width="1.8"/>
<text x="163.5" y="1049.2" class="tk" text-anchor="middle">5</text>
<line x1="255.17" x2="255.17" y1="1021.6" y2="1026.6" stroke="#222" stroke-width="1.8"/>
<text x="255.2" y="1049.2" class="tk" text-anchor="middle">10</text>
<line x1="346.86" x2="346.86" y1="1021.6" y2="1026.6" stroke="#222" stroke-width="1.8"/>
<text x="346.9" y="1049.2" class="tk" text-anchor="middle">15</text>
<line x1="438.54" x2="438.54" y1="1021.6" y2="1026.6" stroke="#222" stroke-width="1.8"/>
<text x="438.5" y="1049.2" class="tk" text-anchor="middle">20</text>
<line x1="530.23" x2="530.23" y1="1021.6" y2="1026.6" stroke="#222" stroke-width="1.8"/>
<text x="530.2" y="1049.2" class="tk" text-anchor="middle">25</text>
<line x1="621.91" x2="621.91" y1="1021.6" y2="1026.6" stroke="#222" stroke-width="1.8"/>
<text x="621.9" y="1049.2" class="tk" text-anchor="middle">30</text>
<line x1="90.1" x2="90.1" y1="607.4" y2="622.9" stroke="#111" stroke-width="1.8"/><line x1="86.7" x2="93.5" y1="622.9" y2="622.9" stroke="#111" stroke-width="1.8"/><line x1="90.1" x2="90.1" y1="599.6" y2="598.5" stroke="#111" stroke-width="1.8"/><line x1="86.7" x2="93.5" y1="598.5" y2="598.5" stroke="#111" stroke-width="1.8"/><rect x="84.6" y="599.6" width="11.0" height="7.8" rx="0.8" fill="#fbb8e0" stroke="#111" stroke-width="1.9"/><rect x="87.5" y="601.4" width="5.2" height="5.2" fill="none" stroke="#b07090" stroke-width="0.9"/><line x1="84.6" x2="95.6" y1="602.0" y2="602.0" stroke="#111" stroke-width="1.9"/>
<line x1="108.5" x2="108.5" y1="667.7" y2="691.4" stroke="#111" stroke-width="1.8"/><line x1="105.1" x2="111.9" y1="691.4" y2="691.4" stroke="#111" stroke-width="1.8"/><line x1="108.5" x2="108.5" y1="658.9" y2="657.4" stroke="#111" stroke-width="1.8"/><line x1="105.1" x2="111.9" y1="657.4" y2="657.4" stroke="#111" stroke-width="1.8"/><rect x="103.0" y="658.9" width="11.0" height="8.8" rx="0.8" fill="#fbb8e0" stroke="#111" stroke-width="1.9"/><rect x="105.9" y="661.7" width="5.2" height="5.2" fill="none" stroke="#b07090" stroke-width="0.9"/><line x1="103.0" x2="114.0" y1="661.2" y2="661.2" stroke="#111" stroke-width="1.9"/>
<line x1="126.8" x2="126.8" y1="712.5" y2="737.5" stroke="#111" stroke-width="1.8"/><line x1="123.4" x2="130.2" y1="737.5" y2="737.5" stroke="#111" stroke-width="1.8"/><rect x="121.3" y="698.8" width="11.0" height="13.7" rx="0.8" fill="#fbb8e0" stroke="#111" stroke-width="1.9"/><rect x="124.2" y="706.5" width="5.2" height="5.2" fill="none" stroke="#b07090" stroke-width="0.9"/><line x1="121.3" x2="132.3" y1="708.3" y2="708.3" stroke="#111" stroke-width="1.9"/>
<line x1="145.1" x2="145.1" y1="750.8" y2="769.8" stroke="#111" stroke-width="1.8"/><line x1="141.7" x2="148.5" y1="769.8" y2="769.8" stroke="#111" stroke-width="1.8"/><rect x="139.6" y="729.3" width="11.0" height="21.5" rx="0.8" fill="#fbb8e0" stroke="#111" stroke-width="1.9"/><rect x="142.5" y="741.5" width="5.2" height="5.2" fill="none" stroke="#b07090" stroke-width="0.9"/><line x1="139.6" x2="150.6" y1="740.0" y2="740.0" stroke="#111" stroke-width="1.9"/>
<line x1="163.5" x2="163.5" y1="780.7" y2="794.1" stroke="#111" stroke-width="1.8"/><line x1="160.1" x2="166.9" y1="794.1" y2="794.1" stroke="#111" stroke-width="1.8"/><rect x="158.0" y="752.4" width="11.0" height="28.3" rx="0.8" fill="#fbb8e0" stroke="#111" stroke-width="1.9"/><rect x="160.9" y="767.4" width="5.2" height="5.2" fill="none" stroke="#b07090" stroke-width="0.9"/><line x1="158.0" x2="169.0" y1="766.0" y2="766.0" stroke="#111" stroke-width="1.9"/>
<line x1="181.8" x2="181.8" y1="804.7" y2="813.4" stroke="#111" stroke-width="1.8"/><line x1="178.4" x2="185.2" y1="813.4" y2="813.4" stroke="#111" stroke-width="1.8"/><rect x="176.3" y="771.2" width="11.0" height="33.5" rx="0.8" fill="#fbb8e0" stroke="#111" stroke-width="1.9"/><rect x="179.2" y="787.2" width="5.2" height="5.2" fill="none" stroke="#b07090" stroke-width="0.9"/><line x1="176.3" x2="187.3" y1="786.5" y2="786.5" stroke="#111" stroke-width="1.9"/>
<line x1="200.2" x2="200.2" y1="823.7" y2="829.9" stroke="#111" stroke-width="1.8"/><line x1="196.8" x2="203.6" y1="829.9" y2="829.9" stroke="#111" stroke-width="1.8"/><rect x="194.7" y="787.3" width="11.0" height="36.4" rx="0.8" fill="#fbb8e0" stroke="#111" stroke-width="1.9"/><rect x="197.6" y="803.7" width="5.2" height="5.2" fill="none" stroke="#b07090" stroke-width="0.9"/><line x1="194.7" x2="205.7" y1="803.4" y2="803.4" stroke="#111" stroke-width="1.9"/>
<line x1="218.5" x2="218.5" y1="839.4" y2="843.7" stroke="#111" stroke-width="1.8"/><line x1="215.1" x2="221.9" y1="843.7" y2="843.7" stroke="#111" stroke-width="1.8"/><rect x="213.0" y="801.1" width="11.0" height="38.3" rx="0.8" fill="#fbb8e0" stroke="#111" stroke-width="1.9"/><rect x="215.9" y="817.8" width="5.2" height="5.2" fill="none" stroke="#b07090" stroke-width="0.9"/><line x1="213.0" x2="224.0" y1="817.6" y2="817.6" stroke="#111" stroke-width="1.9"/>
<line x1="236.8" x2="236.8" y1="853.2" y2="856.4" stroke="#111" stroke-width="1.8"/><line x1="233.4" x2="240.2" y1="856.4" y2="856.4" stroke="#111" stroke-width="1.8"/><rect x="231.3" y="813.4" width="11.0" height="39.8" rx="0.8" fill="#fbb8e0" stroke="#111" stroke-width="1.9"/><rect x="234.2" y="830.4" width="5.2" height="5.2" fill="none" stroke="#b07090" stroke-width="0.9"/><line x1="231.3" x2="242.3" y1="829.9" y2="829.9" stroke="#111" stroke-width="1.9"/>
<line x1="255.2" x2="255.2" y1="864.0" y2="867.2" stroke="#111" stroke-width="1.8"/><line x1="251.8" x2="258.6" y1="867.2" y2="867.2" stroke="#111" stroke-width="1.8"/><rect x="249.7" y="824.2" width="11.0" height="39.8" rx="0.8" fill="#fbb8e0" stroke="#111" stroke-width="1.9"/><rect x="252.6" y="840.7" width="5.2" height="5.2" fill="none" stroke="#b07090" stroke-width="0.9"/><line x1="249.7" x2="260.7" y1="840.6" y2="840.6" stroke="#111" stroke-width="1.9"/>
<line x1="273.5" x2="273.5" y1="873.8" y2="877.6" stroke="#111" stroke-width="1.8"/><line x1="270.1" x2="276.9" y1="877.6" y2="877.6" stroke="#111" stroke-width="1.8"/><rect x="268.0" y="834.4" width="11.0" height="39.4" rx="0.8" fill="#fbb8e0" stroke="#111" stroke-width="1.9"/><rect x="270.9" y="851.0" width="5.2" height="5.2" fill="none" stroke="#b07090" stroke-width="0.9"/><line x1="268.0" x2="279.0" y1="850.7" y2="850.7" stroke="#111" stroke-width="1.9"/>
<line x1="291.8" x2="291.8" y1="883.3" y2="887.4" stroke="#111" stroke-width="1.8"/><line x1="288.4" x2="295.2" y1="887.4" y2="887.4" stroke="#111" stroke-width="1.8"/><rect x="286.3" y="843.9" width="11.0" height="39.4" rx="0.8" fill="#fbb8e0" stroke="#111" stroke-width="1.9"/><rect x="289.2" y="860.4" width="5.2" height="5.2" fill="none" stroke="#b07090" stroke-width="0.9"/><line x1="286.3" x2="297.3" y1="859.2" y2="859.2" stroke="#111" stroke-width="1.9"/>
<line x1="310.2" x2="310.2" y1="891.8" y2="896.2" stroke="#111" stroke-width="1.8"/><line x1="306.8" x2="313.6" y1="896.2" y2="896.2" stroke="#111" stroke-width="1.8"/><rect x="304.7" y="851.7" width="11.0" height="40.1" rx="0.8" fill="#fbb8e0" stroke="#111" stroke-width="1.9"/><rect x="307.6" y="868.4" width="5.2" height="5.2" fill="none" stroke="#b07090" stroke-width="0.9"/><line x1="304.7" x2="315.7" y1="867.8" y2="867.8" stroke="#111" stroke-width="1.9"/>
<line x1="328.5" x2="328.5" y1="899.4" y2="904.1" stroke="#111" stroke-width="1.8"/><line x1="325.1" x2="331.9" y1="904.1" y2="904.1" stroke="#111" stroke-width="1.8"/><rect x="323.0" y="860.2" width="11.0" height="39.2" rx="0.8" fill="#fbb8e0" stroke="#111" stroke-width="1.9"/><rect x="325.9" y="876.0" width="5.2" height="5.2" fill="none" stroke="#b07090" stroke-width="0.9"/><line x1="323.0" x2="334.0" y1="875.7" y2="875.7" stroke="#111" stroke-width="1.9"/>
<line x1="346.9" x2="346.9" y1="906.8" y2="912.1" stroke="#111" stroke-width="1.8"/><line x1="343.5" x2="350.3" y1="912.1" y2="912.1" stroke="#111" stroke-width="1.8"/><rect x="341.4" y="867.3" width="11.0" height="39.5" rx="0.8" fill="#fbb8e0" stroke="#111" stroke-width="1.9"/><rect x="344.3" y="883.5" width="5.2" height="5.2" fill="none" stroke="#b07090" stroke-width="0.9"/><line x1="341.4" x2="352.4" y1="883.0" y2="883.0" stroke="#111" stroke-width="1.9"/>
<line x1="365.2" x2="365.2" y1="914.0" y2="919.7" stroke="#111" stroke-width="1.8"/><line x1="361.8" x2="368.6" y1="919.7" y2="919.7" stroke="#111" stroke-width="1.8"/><rect x="359.7" y="874.2" width="11.0" height="39.8" rx="0.8" fill="#fbb8e0" stroke="#111" stroke-width="1.9"/><rect x="362.6" y="890.8" width="5.2" height="5.2" fill="none" stroke="#b07090" stroke-width="0.9"/><line x1="359.7" x2="370.7" y1="890.1" y2="890.1" stroke="#111" stroke-width="1.9"/>
<line x1="383.5" x2="383.5" y1="920.4" y2="926.7" stroke="#111" stroke-width="1.8"/><line x1="380.1" x2="386.9" y1="926.7" y2="926.7" stroke="#111" stroke-width="1.8"/><rect x="378.0" y="880.9" width="11.0" height="39.5" rx="0.8" fill="#fbb8e0" stroke="#111" stroke-width="1.9"/><rect x="380.9" y="897.5" width="5.2" height="5.2" fill="none" stroke="#b07090" stroke-width="0.9"/><line x1="378.0" x2="389.0" y1="896.4" y2="896.4" stroke="#111" stroke-width="1.9"/>
<line x1="401.9" x2="401.9" y1="926.5" y2="933.3" stroke="#111" stroke-width="1.8"/><line x1="398.5" x2="405.3" y1="933.3" y2="933.3" stroke="#111" stroke-width="1.8"/><rect x="396.4" y="887.3" width="11.0" height="39.2" rx="0.8" fill="#fbb8e0" stroke="#111" stroke-width="1.9"/><rect x="399.3" y="904.1" width="5.2" height="5.2" fill="none" stroke="#b07090" stroke-width="0.9"/><line x1="396.4" x2="407.4" y1="902.5" y2="902.5" stroke="#111" stroke-width="1.9"/>
<line x1="420.2" x2="420.2" y1="932.3" y2="939.5" stroke="#111" stroke-width="1.8"/><line x1="416.8" x2="423.6" y1="939.5" y2="939.5" stroke="#111" stroke-width="1.8"/><rect x="414.7" y="893.5" width="11.0" height="38.8" rx="0.8" fill="#fbb8e0" stroke="#111" stroke-width="1.9"/><rect x="417.6" y="909.8" width="5.2" height="5.2" fill="none" stroke="#b07090" stroke-width="0.9"/><line x1="414.7" x2="425.7" y1="908.7" y2="908.7" stroke="#111" stroke-width="1.9"/>
<line x1="438.5" x2="438.5" y1="937.8" y2="945.6" stroke="#111" stroke-width="1.8"/><line x1="435.1" x2="441.9" y1="945.6" y2="945.6" stroke="#111" stroke-width="1.8"/><rect x="433.0" y="899.0" width="11.0" height="38.8" rx="0.8" fill="#fbb8e0" stroke="#111" stroke-width="1.9"/><rect x="435.9" y="915.0" width="5.2" height="5.2" fill="none" stroke="#b07090" stroke-width="0.9"/><line x1="433.0" x2="444.0" y1="914.2" y2="914.2" stroke="#111" stroke-width="1.9"/>
<line x1="456.9" x2="456.9" y1="943.0" y2="951.5" stroke="#111" stroke-width="1.8"/><line x1="453.5" x2="460.3" y1="951.5" y2="951.5" stroke="#111" stroke-width="1.8"/><rect x="451.4" y="904.6" width="11.0" height="38.4" rx="0.8" fill="#fbb8e0" stroke="#111" stroke-width="1.9"/><rect x="454.3" y="919.8" width="5.2" height="5.2" fill="none" stroke="#b07090" stroke-width="0.9"/><line x1="451.4" x2="462.4" y1="919.7" y2="919.7" stroke="#111" stroke-width="1.9"/>
<line x1="475.2" x2="475.2" y1="948.1" y2="957.2" stroke="#111" stroke-width="1.8"/><line x1="471.8" x2="478.6" y1="957.2" y2="957.2" stroke="#111" stroke-width="1.8"/><rect x="469.7" y="909.9" width="11.0" height="38.2" rx="0.8" fill="#fbb8e0" stroke="#111" stroke-width="1.9"/><rect x="472.6" y="924.8" width="5.2" height="5.2" fill="none" stroke="#b07090" stroke-width="0.9"/><line x1="469.7" x2="480.7" y1="924.9" y2="924.9" stroke="#111" stroke-width="1.9"/>
<line x1="493.6" x2="493.6" y1="952.9" y2="962.3" stroke="#111" stroke-width="1.8"/><line x1="490.2" x2="497.0" y1="962.3" y2="962.3" stroke="#111" stroke-width="1.8"/><rect x="488.1" y="915.0" width="11.0" height="37.9" rx="0.8" fill="#fbb8e0" stroke="#111" stroke-width="1.9"/><rect x="491.0" y="929.9" width="5.2" height="5.2" fill="none" stroke="#b07090" stroke-width="0.9"/><line x1="488.1" x2="499.1" y1="929.8" y2="929.8" stroke="#111" stroke-width="1.9"/>
<line x1="511.9" x2="511.9" y1="957.6" y2="967.5" stroke="#111" stroke-width="1.8"/><line x1="508.5" x2="515.3" y1="967.5" y2="967.5" stroke="#111" stroke-width="1.8"/><rect x="506.4" y="919.7" width="11.0" height="37.9" rx="0.8" fill="#fbb8e0" stroke="#111" stroke-width="1.9"/><rect x="509.3" y="935.1" width="5.2" height="5.2" fill="none" stroke="#b07090" stroke-width="0.9"/><line x1="506.4" x2="517.4" y1="934.9" y2="934.9" stroke="#111" stroke-width="1.9"/>
<line x1="530.2" x2="530.2" y1="962.3" y2="972.7" stroke="#111" stroke-width="1.8"/><line x1="526.8" x2="533.6" y1="972.7" y2="972.7" stroke="#111" stroke-width="1.8"/><rect x="524.7" y="924.5" width="11.0" height="37.8" rx="0.8" fill="#fbb8e0" stroke="#111" stroke-width="1.9"/><rect x="527.6" y="940.6" width="5.2" height="5.2" fill="none" stroke="#b07090" stroke-width="0.9"/><line x1="524.7" x2="535.7" y1="939.2" y2="939.2" stroke="#111" stroke-width="1.9"/>
<path d="M90.14,606.00C93.19,615.90 102.36,647.97 108.47,665.40C114.59,682.83 120.70,697.48 126.81,710.60C132.92,723.72 139.04,734.20 145.15,744.10C151.26,754.00 157.37,762.38 163.49,770.00C169.60,777.62 175.71,783.75 181.82,789.80C187.93,795.85 194.05,801.20 200.16,806.30C206.27,811.40 212.38,815.95 218.50,820.40C224.61,824.85 230.72,829.18 236.83,833.00C242.95,836.82 249.06,839.87 255.17,843.30C261.28,846.73 267.39,850.32 273.51,853.60C279.62,856.88 285.73,860.10 291.84,863.00C297.96,865.90 304.07,868.40 310.18,871.00C316.29,873.60 322.41,876.08 328.52,878.60C334.63,881.12 340.74,883.63 346.86,886.10C352.97,888.57 359.08,891.07 365.19,893.40C371.30,895.73 377.42,897.88 383.53,900.10C389.64,902.32 395.75,904.65 401.87,906.70C407.98,908.75 414.09,910.58 420.20,912.40C426.32,914.22 432.43,915.93 438.54,917.60C444.65,919.27 450.76,920.77 456.88,922.40C462.99,924.03 469.10,925.72 475.21,927.40C481.33,929.08 487.44,930.78 493.55,932.50C499.66,934.22 505.78,935.92 511.89,937.70C518.00,939.48 527.17,942.28 530.23,943.20" fill="none" stroke="#5fa8a2" stroke-width="1.3"/>
<g transform="translate(-109.55,473.62) scale(1.1233,1.0857)" fill="#222"><text x="100" y="100" style="font-family:&quot;Liberation Sans&quot;,sans-serif;font-size:23px" stroke="#111" stroke-width="0.55">(b)</text></g>
<g transform="translate(74.84,547.31) scale(1.0382,0.9386)" fill="#222"><text x="100" y="100" style="font-family:&quot;Liberation Serif&quot;,serif;font-size:17px">R<tspan style="font-size:11.9px" dy="-7.7">2</tspan><tspan dy="7.7" stroke="#222" stroke-width="0.12">=0. 967</tspan></text></g>
<g transform="translate(39.75,579.27) scale(1.0825,0.9629)" fill="#222"><text x="100" y="100" style="font-family:&quot;Liberation Serif&quot;,serif;font-size:17px"><tspan style="font-style:italic">L</tspan><tspan style="font-size:15.3px" dy="-5.1" dx="-0.5">*</tspan><tspan dy="5.1" dx="-0.5" stroke="#222" stroke-width="0.12">=80. 55−4. 91x+0. 11x</tspan><tspan style="font-size:11.9px" dy="-7.7">2</tspan></text></g>
<g transform="translate(312.42,531.81) scale(1.0223,1.0740)" fill="#222"><text x="100" y="100" style="font-family:&quot;Liberation Serif&quot;,serif;font-style:italic;font-size:17px">L</text></g>
<g transform="translate(301.93,546.87) scale(1.2002,0.8711)" fill="#222"><text x="100" y="100" style="font-family:&quot;Liberation Serif&quot;,serif;font-size:17px">*</text></g>
<g transform="translate(321.78,518.16) scale(1.0889,1.1859)" fill="#222"><text transform="translate(104.00,100) scale(1.000,1)" text-anchor="middle" style="font-family:&quot;Liberation Serif&quot;,serif;font-size:16px" stroke="#222" stroke-width="0.12">(</text><text transform="translate(112.00,100) scale(0.630,1)" text-anchor="middle" style="font-family:&quot;Liberation Serif&quot;,serif;font-size:16px" stroke="#222" stroke-width="0.12">m</text><text transform="translate(120.00,100) scale(1.104,1)" text-anchor="middle" style="font-family:&quot;Liberation Serif&quot;,serif;font-size:16px" stroke="#222" stroke-width="0.12">a</text><text transform="translate(128.00,100) scale(0.980,1)" text-anchor="middle" style="font-family:&quot;Liberation Serif&quot;,serif;font-size:16px" stroke="#222" stroke-width="0.12">x</text><text transform="translate(136.00,100) scale(1.000,1)" text-anchor="middle" style="font-family:&quot;Liberation Serif&quot;,serif;font-size:16px" stroke="#222" stroke-width="0.12">)</text></g>
<g transform="translate(382.56,545.47) scale(0.9474,0.9394)" fill="#222"><text x="100" y="100" style="font-family:&quot;Liberation Serif&quot;,serif;font-size:19px" stroke="#222" stroke-width="0.15">=85. 65</text></g>
<g transform="translate(309.13,567.01) scale(1.0512,1.0740)" fill="#222"><text x="100" y="100" style="font-family:&quot;Liberation Serif&quot;,serif;font-style:italic;font-size:17px">L</text></g>
<g transform="translate(332.22,586.27) scale(0.9161,0.8403)" fill="#222"><text x="100" y="100" style="font-family:&quot;Liberation Serif&quot;,serif;font-size:17px">*</text></g>
<g transform="translate(321.78,556.55) scale(1.0889,1.1578)" fill="#222"><text transform="translate(104.00,100) scale(1.000,1)" text-anchor="middle" style="font-family:&quot;Liberation Serif&quot;,serif;font-size:16px" stroke="#222" stroke-width="0.12">(</text><text transform="translate(112.00,100) scale(0.630,1)" text-anchor="middle" style="font-family:&quot;Liberation Serif&quot;,serif;font-size:16px" stroke="#222" stroke-width="0.12">m</text><text transform="translate(120.00,100) scale(1.220,1)" text-anchor="middle" style="font-family:&quot;Liberation Serif&quot;,serif;font-size:16px" stroke="#222" stroke-width="0.12">i</text><text transform="translate(128.00,100) scale(0.980,1)" text-anchor="middle" style="font-family:&quot;Liberation Serif&quot;,serif;font-size:16px" stroke="#222" stroke-width="0.12">n</text><text transform="translate(136.00,100) scale(1.000,1)" text-anchor="middle" style="font-family:&quot;Liberation Serif&quot;,serif;font-size:16px" stroke="#222" stroke-width="0.12">)</text></g>
<g transform="translate(382.56,574.09) scale(0.9474,1.0070)" fill="#222"><text x="100" y="100" style="font-family:&quot;Liberation Serif&quot;,serif;font-size:19px" stroke="#222" stroke-width="0.15">=18. 23</text></g>
<g transform="translate(45.04,725.60) scale(0.6751,0.9965)" fill="#222"><text x="100" y="100" style="font-family:&quot;Liberation Serif&quot;,serif;font-size:22px" stroke="#222" stroke-width="0.35">A</text></g>
<g transform="translate(-67.38,565.03) scale(0.9628,0.9981)" fill="#222"><g transform="translate(100,300) rotate(-90) translate(-100,-100)"><text transform="translate(105.88,100) scale(0.802,1)" text-anchor="middle" style="font-family:&quot;Liberation Serif&quot;,serif;font-size:23.5px">L</text><text transform="translate(117.62,100) scale(1.220,1)" text-anchor="middle" style="font-family:&quot;Liberation Serif&quot;,serif;font-size:23.5px">i</text><text transform="translate(129.38,100) scale(0.980,1)" text-anchor="middle" style="font-family:&quot;Liberation Serif&quot;,serif;font-size:23.5px">g</text><text transform="translate(141.12,100) scale(0.980,1)" text-anchor="middle" style="font-family:&quot;Liberation Serif&quot;,serif;font-size:23.5px">h</text><text transform="translate(152.88,100) scale(1.220,1)" text-anchor="middle" style="font-family:&quot;Liberation Serif&quot;,serif;font-size:23.5px">t</text><text transform="translate(164.62,100) scale(0.980,1)" text-anchor="middle" style="font-family:&quot;Liberation Serif&quot;,serif;font-size:23.5px">n</text><text transform="translate(176.38,100) scale(1.104,1)" text-anchor="middle" style="font-family:&quot;Liberation Serif&quot;,serif;font-size:23.5px">e</text><text transform="translate(188.12,100) scale(1.220,1)" text-anchor="middle" style="font-family:&quot;Liberation Serif&quot;,serif;font-size:23.5px">s</text><text transform="translate(199.88,100) scale(1.220,1)" text-anchor="middle" style="font-family:&quot;Liberation Serif&quot;,serif;font-size:23.5px">s</text></g></g>
<g transform="translate(-49.15,466.96) scale(0.7747,0.9393)" fill="#222"><text transform="translate(100,300) rotate(-90)" style="font-family:&quot;Liberation Serif&quot;,serif;font-size:24px"><tspan style="font-style:italic">L</tspan><tspan style="font-size:22.8px" dy="-7.9" dx="-0.5">*</tspan></text></g>
<g transform="translate(126.89,981.83) scale(0.9778,0.9716)" fill="#222"><text transform="translate(105.88,100) scale(0.802,1)" text-anchor="middle" style="font-family:&quot;Liberation Serif&quot;,serif;font-size:23.5px">L</text><text transform="translate(117.62,100) scale(1.220,1)" text-anchor="middle" style="font-family:&quot;Liberation Serif&quot;,serif;font-size:23.5px">i</text><text transform="translate(129.38,100) scale(0.980,1)" text-anchor="middle" style="font-family:&quot;Liberation Serif&quot;,serif;font-size:23.5px">g</text><text transform="translate(141.12,100) scale(0.980,1)" text-anchor="middle" style="font-family:&quot;Liberation Serif&quot;,serif;font-size:23.5px">h</text><text transform="translate(152.88,100) scale(1.220,1)" text-anchor="middle" style="font-family:&quot;Liberation Serif&quot;,serif;font-size:23.5px">t</text><text transform="translate(176.38,100) scale(0.980,1)" text-anchor="middle" style="font-family:&quot;Liberation Serif&quot;,serif;font-size:23.5px">p</text><text transform="translate(188.12,100) scale(1.104,1)" text-anchor="middle" style="font-family:&quot;Liberation Serif&quot;,serif;font-size:23.5px">a</text><text transform="translate(199.88,100) scale(1.220,1)" text-anchor="middle" style="font-family:&quot;Liberation Serif&quot;,serif;font-size:23.5px">t</text><text transform="translate(211.62,100) scale(0.980,1)" text-anchor="middle" style="font-family:&quot;Liberation Serif&quot;,serif;font-size:23.5px">h</text><text transform="translate(235.12,100) scale(1.220,1)" text-anchor="middle" style="font-family:&quot;Liberation Serif&quot;,serif;font-size:23.5px">l</text><text transform="translate(246.88,100) scale(1.104,1)" text-anchor="middle" style="font-family:&quot;Liberation Serif&quot;,serif;font-size:23.5px">e</text><text transform="translate(258.62,100) scale(0.980,1)" text-anchor="middle" style="font-family:&quot;Liberation Serif&quot;,serif;font-size:23.5px">n</text><text transform="translate(270.38,100) scale(0.980,1)" text-anchor="middle" style="font-family:&quot;Liberation Serif&quot;,serif;font-size:23.5px">g</text><text transform="translate(282.12,100) scale(1.220,1)" text-anchor="middle" style="font-family:&quot;Liberation Serif&quot;,serif;font-size:23.5px">t</text><text transform="translate(293.88,100) scale(0.980,1)" text-anchor="middle" style="font-family:&quot;Liberation Serif&quot;,serif;font-size:23.5px">h</text><text transform="translate(305.62,100) scale(1.000,1)" text-anchor="middle" style="font-family:&quot;Liberation Serif&quot;,serif;font-size:23.5px">(</text><text transform="translate(317.38,100) scale(0.630,1)" text-anchor="middle" style="font-family:&quot;Liberation Serif&quot;,serif;font-size:23.5px">m</text><text transform="translate(329.12,100) scale(0.630,1)" text-anchor="middle" style="font-family:&quot;Liberation Serif&quot;,serif;font-size:23.5px">m</text><text transform="translate(340.88,100) scale(1.000,1)" text-anchor="middle" style="font-family:&quot;Liberation Serif&quot;,serif;font-size:23.5px">)</text></g>
<rect x="553.9" y="612.6" width="32.2" height="32.1" fill="#f0c8dc"/>
<rect x="553.9" y="653.0" width="32.2" height="32.2" fill="#5a0000"/>

</svg></body></html>
